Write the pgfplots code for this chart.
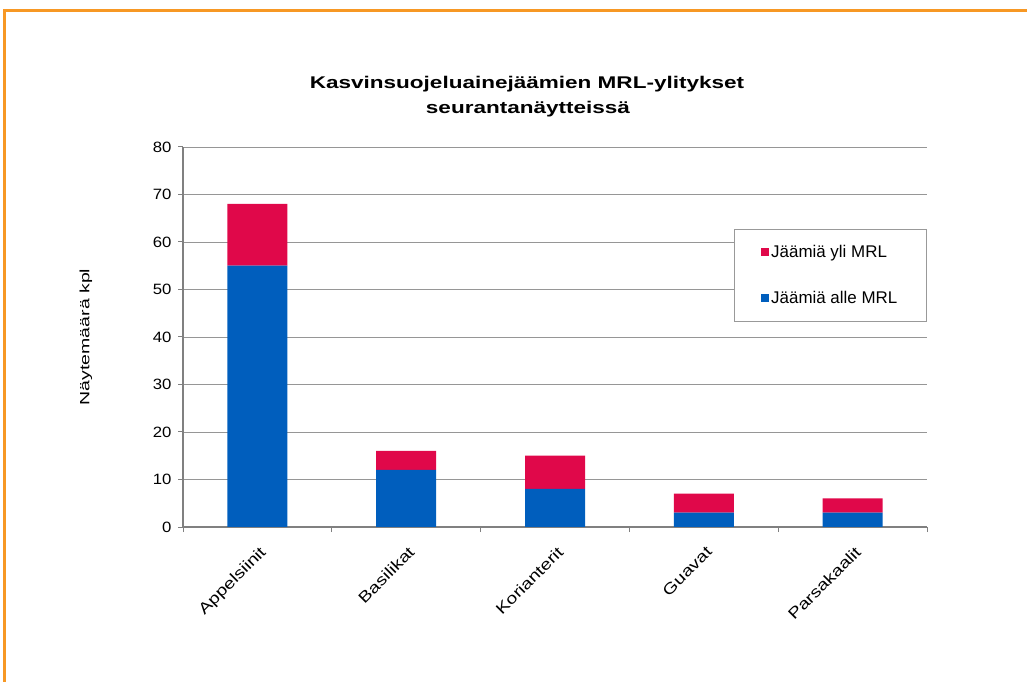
\documentclass[border=0pt]{standalone}
\usepackage{pgfplots}
\pgfplotsset{compat=1.18}
\usepackage{fontspec}
\setmainfont{Liberation Sans}
\newfontfamily\titlefont[FakeStretch=1.33]{Liberation Sans}
\newfontfamily\ylabfont[FakeStretch=1.45]{Liberation Sans}
\newfontfamily\tickfont[FakeStretch=1.12]{Liberation Sans}
\newfontfamily\xlabfont[FakeStretch=1.25]{Liberation Sans}
\definecolor{cblue}{RGB}{0,94,189}
\definecolor{cred}{RGB}{224,8,74}
\definecolor{corange}{RGB}{247,152,36}
\definecolor{cgrid}{RGB}{150,150,150}
\definecolor{caxis}{RGB}{128,128,128}
\begin{document}
\begin{tikzpicture}
\useasboundingbox (0,0) rectangle (1027bp,682bp);
\draw[corange, line width=3bp] (4bp,0) -- (4bp,671bp) -- (1027bp,671bp);
\node[font=\titlefont\bfseries\fontsize{17}{20}\selectfont, anchor=base, inner sep=0pt] at (527bp,593bp) {Kasvinsuojeluainejäämien MRL-ylitykset};
\node[font=\titlefont\bfseries\fontsize{17}{20}\selectfont, anchor=base, inner sep=0pt] at (528bp,568bp) {seurantanäytteissä};
\node[rotate=90, font=\ylabfont\fontsize{13.5}{15}\selectfont] at (86bp,345bp) {Näytemäärä kpl};
\begin{axis}[
  at={(183bp,155bp)}, anchor=south west,
  scale only axis, width=744bp, height=380bp,
  ybar stacked, bar width=60bp,
  ymin=0, ymax=80, ytick={0,10,...,80},
  xmin=-0.5, xmax=4.5,
  xtick={0,...,4},
  xticklabels={Appelsiinit,Basilikat,Korianterit,Guavat,Parsakaalit},
  major x tick style={draw=none},
  minor xtick={-0.5,0.5,...,4.5},
  tick align=outside,
  major tick length=5bp, minor tick length=5bp,
  axis x line*=bottom, axis y line*=left,
  axis line style={caxis, line width=1.4bp},
  tick style={caxis, line width=1bp},
  ymajorgrids, grid style={cgrid, line width=0.9bp},
  /pgf/number format/assume math mode=true,
  yticklabel style={font=\tickfont\fontsize{15}{17}\selectfont, xshift=-3bp},
  xticklabel style={font=\xlabfont\fontsize{15.5}{17}\selectfont, rotate=45, anchor=north east, xshift=-5bp, yshift=-7bp},
  legend style={at={(0.7406,0.784)}, anchor=north west, draw=caxis!80,
    font=\fontsize{17}{19}\selectfont, inner xsep=27bp, inner ysep=14bp,
    row sep=28bp, nodes={inner sep=2bp}},
  legend cell align=left,
  reverse legend,
  legend image code/.code={\fill[#1] (0bp,-4bp) rectangle (8bp,4bp);},
]
\addplot[fill=cblue, draw=none] coordinates {(0,55) (1,12) (2,8) (3,3) (4,3)};
\addplot[fill=cred, draw=none] coordinates {(0,13) (1,4) (2,7) (3,4) (4,3)};
\legend{Jäämiä alle MRL, Jäämiä yli MRL}
\end{axis}
\end{tikzpicture}
\end{document}
